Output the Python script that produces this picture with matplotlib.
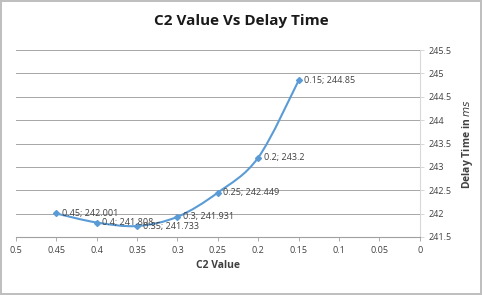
import matplotlib
matplotlib.use("Agg")
import matplotlib.pyplot as plt
from matplotlib.path import Path
from matplotlib.patches import PathPatch
import numpy as np

c2 = [0.45, 0.4, 0.35, 0.3, 0.25, 0.2, 0.15]
delay = [242.001, 241.808, 241.733, 241.931, 242.449, 243.2, 244.85]
labels = ["0.45; 242.001", "0.4; 241.808", "0.35; 241.733", "0.3; 241.931",
          "0.25; 242.449", "0.2; 243.2", "0.15; 244.85"]
xticks = [0.5, 0.45, 0.4, 0.35, 0.3, 0.25, 0.2, 0.15, 0.1, 0.05, 0]
yticks = [241.5, 242, 242.5, 243, 243.5, 244, 244.5, 245, 245.5]

blue = "#5b9bd5"
plt.rcParams['font.family'] = ['Open Sans', 'DejaVu Sans']

fig = plt.figure(figsize=(4.82, 2.95), dpi=100)
fig.patch.set_edgecolor("#bfbfbf")
fig.patch.set_linewidth(1.5)
ax = fig.add_axes([0.033, 0.197, 0.838, 0.633])

ax.set_xlim(0.5, 0)
ax.set_ylim(241.5, 245.5)
ax.set_xticks(xticks)
ax.set_xticklabels([f"{t:g}" for t in xticks])
ax.set_yticks(yticks)
ax.set_yticklabels([f"{t:g}" for t in yticks])
ax.yaxis.tick_right()
ax.yaxis.set_label_position("right")
ax.tick_params(axis='both', labelsize=6.5, colors="#404040", length=3, width=0.6)
ax.tick_params(axis='x', color="#a0a0a0")
ax.tick_params(axis='y', color="#d0d0d0")
ax.grid(axis='y', color="#a6a6a6", linewidth=0.7)
ax.set_axisbelow(True)
for s in ["top", "left"]:
    ax.spines[s].set_visible(False)
ax.spines["bottom"].set_color("#a0a0a0")
ax.spines["right"].set_color("#d9d9d9")

# smoothed line like Excel (Catmull-Rom as cubic Bezier)
pts = np.column_stack([c2, delay])
verts = [pts[0]]
codes = [Path.MOVETO]
n = len(pts)
for i in range(n - 1):
    p0 = pts[max(i - 1, 0)]
    p1 = pts[i]
    p2 = pts[i + 1]
    p3 = pts[min(i + 2, n - 1)]
    verts += [p1 + (p2 - p0) / 6, p2 - (p3 - p1) / 6, p2]
    codes += [Path.CURVE4] * 3
ax.add_patch(PathPatch(Path(verts, codes), facecolor="none", edgecolor=blue, lw=1.5))
ax.plot(c2, delay, linestyle="none", marker="D", markersize=3, color=blue)

for x, y, t in zip(c2, delay, labels):
    ax.annotate(t, (x, y), xytext=(4, 0), textcoords="offset points",
                fontsize=6.5, color="#404040", va="center", ha="left")

ax.set_xlabel("C2 Value", fontsize=7.5, fontweight="bold", color="#404040", labelpad=4)
ax.set_ylabel(r"Delay Time in $\mathit{ms}$", fontsize=7.5, fontweight="bold",
              color="#404040", labelpad=6)
fig.text(0.5, 0.93, "C2 Value Vs Delay Time", ha="center", va="center",
         fontsize=11, fontweight="bold", color="#1a1a1a")

fig.savefig("out.png", dpi=100, edgecolor=fig.get_edgecolor())
